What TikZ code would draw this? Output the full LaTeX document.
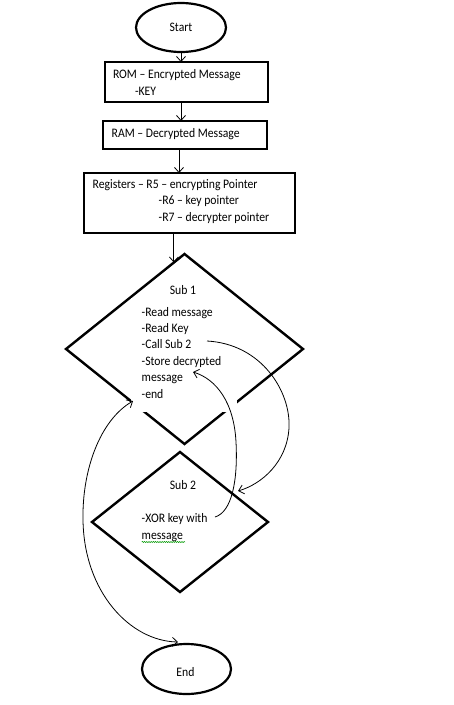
\documentclass[tikz,border=0pt]{standalone}
\usepackage{fontspec}
\setmainfont{Carlito}[FakeStretch=0.9]
\usetikzlibrary{shapes.geometric,arrows.meta,decorations.pathmorphing}
\begin{document}
\begin{tikzpicture}[x=1pt,y=-1pt,
  every node/.style={font=\fontsize{13}{16.4}\selectfont, inner sep=0pt, outer sep=0pt},
  terminal/.style={ellipse, draw, line width=2.2pt},
  procbox/.style={rectangle, draw, line width=1.1pt},
  decision/.style={diamond, draw, line width=2.4pt},
  txt/.style={anchor=base west},
  ctxt/.style={anchor=base},
  coverbox/.style={rectangle, fill=white},
  arr/.style={line width=0.8pt, -{Straight Barb[length=5pt,width=9pt]}},
  twoway/.style={line width=0.8pt, {Straight Barb[length=5pt,width=9pt]}-{Straight Barb[length=5pt,width=9pt]}},
]
\fill[white] (0,0) rectangle (454,705);
\useasboundingbox (0,0) rectangle (454,705);

% terminals
\node[terminal, minimum width=90pt, minimum height=49pt] (start) at (181,27.5) {Start};
\node[terminal, minimum width=89pt, minimum height=50pt] (end) at (186.5,669) {};
\node[ctxt] (endtxt) at (185.5,676) {End};

% process boxes
\node[procbox, minimum width=163pt, minimum height=40pt] (rom) at (186.5,82) {};
\node[procbox, minimum width=164pt, minimum height=28pt] (ram) at (185,135) {};
\node[procbox, minimum width=211pt, minimum height=60pt] (reg) at (189.5,203) {};

\node[txt] (romtxt) at (113,78.7) {\begin{tabular}[t]{@{}l@{}}ROM – Encrypted Message\\ \hspace*{22pt}-KEY\end{tabular}};
\node[txt] (ramtxt) at (111.7,137.3) {RAM – Decrypted Message};
\node[txt] (regtxt) at (92.7,188.3) {\begin{tabular}[t]{@{}l@{}}Registers – R5 – encrypting Pointer\\ \hspace*{66pt}-R6 – key pointer\\ \hspace*{66pt}-R7 – decrypter pointer\end{tabular}};

% decisions
\node[decision, minimum width=237pt, minimum height=190pt] (s1) at (184.5,349) {};
\node[coverbox, minimum width=105.6pt, minimum height=114pt] (s1cover) at (183.8,355) {};
\node[ctxt] (s1title) at (183,294) {Sub 1};
\node[txt] (s1list) at (141.7,316) {\begin{tabular}[t]{@{}l@{}}-Read message\\-Read Key\\-Call Sub 2\\-Store decrypted\\message\\-end\end{tabular}};

\node[decision, minimum width=176pt, minimum height=140pt] (s2) at (180,522) {};
\node[ctxt] (s2title) at (183,489) {Sub 2};
\node[txt] (s2list) at (141.7,522.7) {\begin{tabular}[t]{@{}l@{}}-XOR key with\\message\end{tabular}};
\draw[green!60!black, line width=0.5pt, decorate, decoration={snake, amplitude=0.6pt, segment length=2.2pt}]
  (s2list.base west |- 0,542) -- (185,542);

% straight connectors
\draw[arr] (start.south) -- (start.south |- rom.north);
\draw[arr] (rom.south -| start.south) -- (ram.north -| start.south);
\draw[arr] (ram.south -| 179,0) -- (reg.north -| 179,0);
\draw[arr] (reg.south -| s1.97) -- (s1.97);

% subroutine links
\coordinate (callpt) at (207,341);
\coordinate (s2in) at (238,491);
\coordinate (xorpt) at (215,517);
\coordinate (storept) at (193,372);
\coordinate (endpt) at (133,401);
\coordinate (endin) at (178,642);

\draw[arr] (callpt) .. controls (262,344) and (291,392) .. (289,428)
  .. controls (287,462) and (262,484) .. (s2in);
\draw[arr] (xorpt) .. controls (232,512) and (238,480) .. (236,442)
  .. controls (234,402) and (216,379) .. (storept);
\draw[twoway] (endpt) .. controls (100,420) and (82,470) .. (83,520)
  .. controls (84,592) and (130,641) .. (endin);
\end{tikzpicture}
\end{document}
